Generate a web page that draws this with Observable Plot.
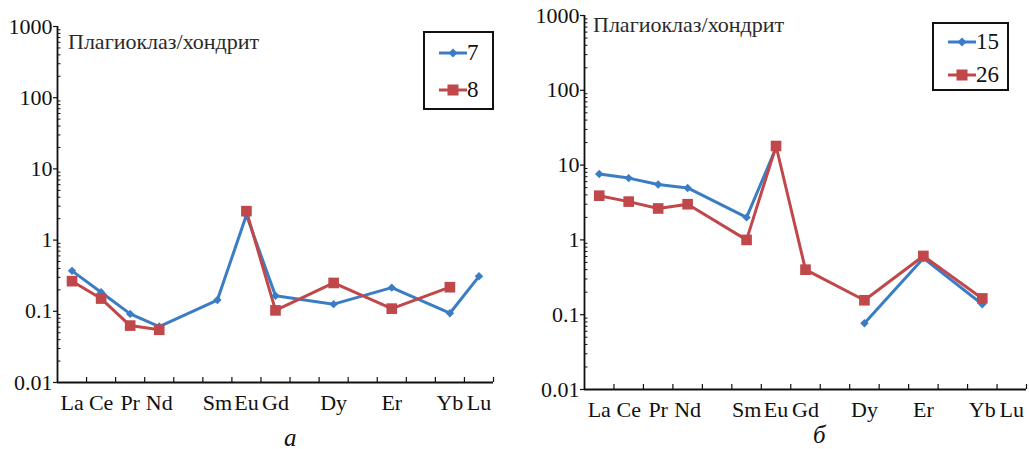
<!DOCTYPE html>
<html>
<head>
<meta charset="utf-8">
<script src="https://cdn.jsdelivr.net/npm/d3@7"></script>
<script src="https://cdn.jsdelivr.net/npm/@observablehq/plot@0.6"></script>
<style>
  html, body { margin: 0; padding: 0; background: #fff; }
  body { width: 1029px; height: 449px; position: relative; overflow: hidden; font-family: "Liberation Serif", "Times New Roman", Times, serif; }
  svg text { font-family: "Liberation Serif", "Times New Roman", Times, serif !important; }
  .panel { position: absolute; top: 0; }
  .ttl { position: absolute; font-size: 22px; color: #2a2a2a; white-space: nowrap; line-height: 1; }
  .legend { position: absolute; border: 2px solid #111; box-sizing: border-box; background: #fff; }
  .legend .row { position: absolute; display: flex; align-items: center; font-size: 23px; color: #111; line-height: 1; }
  .letter { position: absolute; font-style: italic; font-size: 25px; color: #111; line-height: 1; }
</style>
</head>
<body>
<script>
// ---- data ----
const elements = ["La","Ce","Pr","Nd","Pm","Sm","Eu","Gd","Tb","Dy","Ho","Er","Tm","Yb","Lu"];
const shown    = ["La","Ce","Pr","Nd","Sm","Eu","Gd","Dy","Er","Yb","Lu"];
const yTicks   = [0.01, 0.1, 1, 10, 100, 1000];
const title    = "Плагиоклаз/хондрит";

// panel а
const nameA1 = "7";
const valsA1 = [0.37, 0.185, 0.092, 0.061, 0.144, 2.25, 0.165, 0.126, 0.215, 0.094, 0.31];
const nameA2 = "8";
const valsA2 = [0.265, 0.151, 0.063, 0.055, null, 2.55, 0.103, 0.25, 0.109, 0.218, null];

// panel б
const nameB1 = "15";
const valsB1 = [7.6, 6.7, 5.5, 4.95, 2.0, 17, null, 0.077, 0.57, 0.138, null];
const nameB2 = "26";
const valsB2 = [3.9, 3.25, 2.63, 3.0, 1.0, 18, 0.4, 0.156, 0.61, 0.165, null];

const BLUE = "#3b7dc4";
const RED  = "#c0474a";
const FONT = "Liberation Serif, Times New Roman, serif";

function rows(vals, series) {
  return shown.map((el, k) => ({
    el, series,
    i: elements.indexOf(el) + 0.5,
    v: vals[k] == null ? NaN : vals[k]
  }));
}

const minors = [];
for (let e = -2; e < 3; e++) for (let m = 2; m <= 9; m++) minors.push(m * Math.pow(10, e));

function panel({left, width, height, mL, mR, mT, mB, s1, s2}) {
  const pw = width - mL - mR, ph = height - mT - mB;
  const chart = Plot.plot({
    width, height,
    marginLeft: mL, marginRight: mR, marginTop: mT, marginBottom: mB,
    style: { fontFamily: FONT, background: "transparent", color: "#111", overflow: "visible" },
    x: { type: "linear", domain: [0, elements.length], axis: null, label: null },
    y: { type: "log", domain: [0.01, 1000], axis: null, label: null },
    marks: [
      Plot.tickY(minors, { y: d => d, stroke: "#111", strokeWidth: 1, insetRight: pw - 3.5 }),
      Plot.tickX(d3.range(1, elements.length + 1), { x: d => d, stroke: "#111", strokeWidth: 1.2, insetTop: ph - 5 }),
      Plot.axisY({ ticks: yTicks, tickFormat: d => String(d), tickSize: 4, tickPadding: 1, fontSize: 22, stroke: "#111", strokeWidth: 1.2, label: null }),
      Plot.axisX({ ticks: elements.map((e, i) => i + 0.5), tickFormat: (d, i) => shown.includes(elements[i]) ? elements[i] : "", tickSize: 0, tickPadding: 12, fontSize: 22, label: null }),
      Plot.ruleX([0], { stroke: "#111", strokeWidth: 1.8 }),
      Plot.ruleY([0.01], { stroke: "#111", strokeWidth: 1.8 }),
      Plot.line(s1, { x: "i", y: "v", stroke: BLUE, strokeWidth: 3 }),
      Plot.line(s2, { x: "i", y: "v", stroke: RED, strokeWidth: 3 }),
      Plot.dot(s1.filter(d => isFinite(d.v)), { x: "i", y: "v", symbol: "diamond2", r: 3.8, fill: BLUE, stroke: "none" }),
      Plot.dot(s2.filter(d => isFinite(d.v)), { x: "i", y: "v", symbol: "square", r: 6, fill: RED, stroke: "none" })
    ]
  });
  const div = document.createElement("div");
  div.className = "panel";
  div.style.left = left + "px";
  div.appendChild(chart);
  document.body.appendChild(div);
}

panel({ left: 0, width: 508, height: 420, mL: 57, mR: 15, mT: 26, mB: 38,
        s1: rows(valsA1, nameA1), s2: rows(valsA2, nameA2) });
panel({ left: 509, width: 520, height: 430, mL: 75, mR: 3, mT: 15, mB: 41,
        s1: rows(valsB1, nameB1), s2: rows(valsB2, nameB2) });

function addText(cls, text, x, y) {
  const d = document.createElement("div");
  d.className = cls; d.textContent = text;
  d.style.left = x + "px"; d.style.top = y + "px";
  document.body.appendChild(d);
  return d;
}
addText("ttl", title, 68, 31);
addText("ttl", title, 593, 14);

function swatch(color, kind) {
  const ns = "http://www.w3.org/2000/svg";
  const s = document.createElementNS(ns, "svg");
  s.setAttribute("width", 28); s.setAttribute("height", 14);
  s.innerHTML = `<line x1="0" x2="28" y1="7" y2="7" stroke="${color}" stroke-width="3"/>` +
    (kind === "d" ? `<path d="M14,2.5L18.5,7L14,11.5L9.5,7Z" fill="${color}"/>`
                  : `<rect x="8.5" y="1.5" width="11" height="11" fill="${color}"/>`);
  return s;
}
function legend(x, y, w, h, items, tops) {
  const box = document.createElement("div");
  box.className = "legend";
  Object.assign(box.style, { left: x + "px", top: y + "px", width: w + "px", height: h + "px" });
  items.forEach(([name, color, kind], k) => {
    const r = document.createElement("div");
    r.className = "row";
    r.style.left = "14px"; r.style.top = tops[k] + "px";
    r.appendChild(swatch(color, kind));
    const t = document.createElement("span"); t.textContent = name;
    r.appendChild(t);
    box.appendChild(r);
  });
  document.body.appendChild(box);
}
legend(423, 31, 71, 79, [[nameA1, BLUE, "d"], [nameA2, RED, "s"]], [8, 45]);
legend(932, 22, 77, 69, [[nameB1, BLUE, "d"], [nameB2, RED, "s"]], [6, 39]);

addText("letter", "а", 284, 425);
addText("letter", "б", 813, 422);
</script>
</body>
</html>
